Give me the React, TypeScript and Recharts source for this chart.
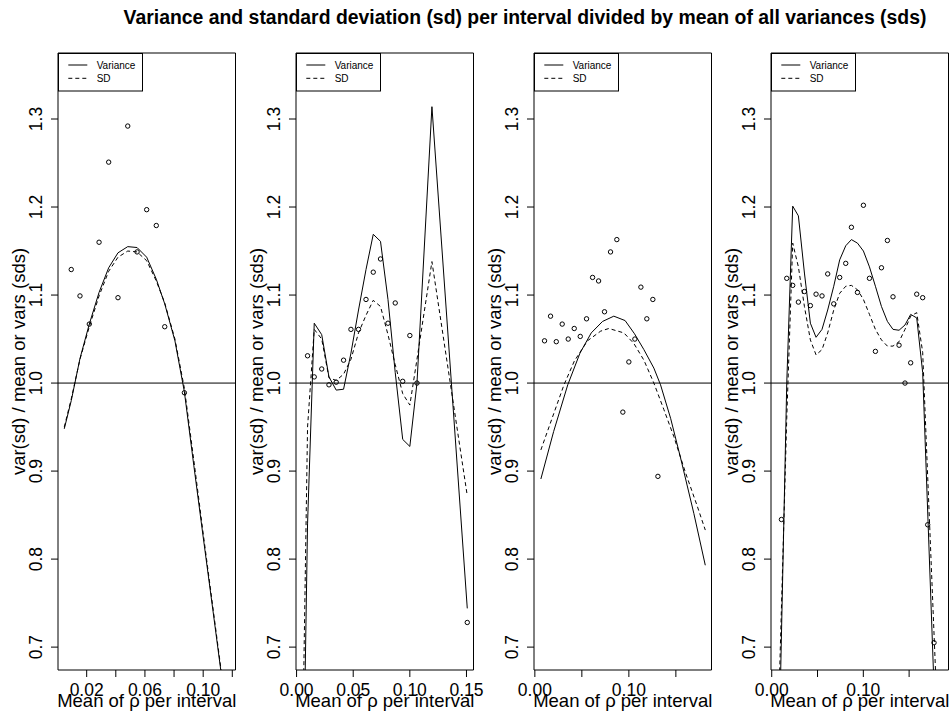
import React from 'react';
import { ComposedChart, Line, Scatter, XAxis, YAxis, ReferenceLine, ReferenceArea } from 'recharts';

const FONT = '"Liberation Sans", Arial, Helvetica, sans-serif';

// ---------- shared axis values ----------
const yTicks = [0.7, 0.8, 0.9, 1.0, 1.1, 1.2, 1.3];
const yTickLabels = ['0.7', '0.8', '0.9', '1.0', '1.1', '1.2', '1.3'];
const yDomain: [number, number] = [0.674, 1.375];

// ---------- panel 1 ----------
const p1XDomain: [number, number] = [0.0003, 0.1222];
const p1XTicks = [0.02, 0.04, 0.06, 0.08, 0.1, 0.12];
const p1XTickLabels = ['0.02', '', '0.06', '', '0.10', ''];
const p1PtX = [0.0094, 0.0154, 0.0218, 0.0285, 0.0351, 0.0415, 0.0482, 0.0546, 0.0612, 0.0678, 0.0736, 0.0871];
const p1PtY = [1.129, 1.099, 1.067, 1.16, 1.251, 1.097, 1.292, 1.149, 1.197, 1.179, 1.064, 0.989];
const p1LineX = [0.0046, 0.0094, 0.0154, 0.0218, 0.0285, 0.0351, 0.0415, 0.0482, 0.0546, 0.0612, 0.0678, 0.0736, 0.0806, 0.0871, 0.0936, 0.1001, 0.1066, 0.1131];
const p1Var = [0.948, 0.98, 1.028, 1.067, 1.103, 1.131, 1.148, 1.155, 1.154, 1.143, 1.118, 1.09, 1.048, 0.99, 0.906, 0.824, 0.743, 0.661];
const p1Sd = [0.95, 0.982, 1.027, 1.064, 1.099, 1.127, 1.143, 1.15, 1.149, 1.139, 1.116, 1.091, 1.05, 0.994, 0.912, 0.828, 0.746, 0.664];

// ---------- panel 2 ----------
const p2XDomain: [number, number] = [-0.0005, 0.1562];
const p2XTicks = [0, 0.05, 0.1, 0.15];
const p2XTickLabels = ['0.00', '0.05', '0.10', '0.15'];
const p2PtX = [0.0097, 0.0156, 0.0222, 0.0286, 0.035, 0.0415, 0.048, 0.0547, 0.0613, 0.0677, 0.0741, 0.0807, 0.0871, 0.0937, 0.1, 0.1063, 0.1507];
const p2PtY = [1.031, 1.007, 1.016, 0.998, 1.001, 1.026, 1.061, 1.061, 1.095, 1.126, 1.141, 1.068, 1.091, 1.002, 1.054, 1.0, 0.728];
const p2LineX = [0.0055, 0.0097, 0.0156, 0.0222, 0.0286, 0.035, 0.0415, 0.048, 0.0547, 0.0613, 0.0677, 0.0741, 0.0807, 0.0871, 0.0937, 0.1, 0.1063, 0.1195, 0.1507];
const p2Var = [0.5, 0.84, 1.068, 1.055, 1.007, 0.992, 0.993, 1.034, 1.083, 1.129, 1.169, 1.161, 1.095, 1.012, 0.936, 0.928, 1.0, 1.314, 0.744];
const p2Sd = [0.6, 0.95, 1.061, 1.05, 1.006, 1.003, 1.01, 1.027, 1.057, 1.077, 1.094, 1.087, 1.055, 1.021, 0.988, 0.975, 1.027, 1.138, 0.872];

// ---------- panel 3 ----------
const p3XDomain: [number, number] = [-0.0009, 0.1879];
const p3XTicks = [0, 0.05, 0.1, 0.15];
const p3XTickLabels = ['0.00', '', '0.10', ''];
const p3PtX = [0.0103, 0.0167, 0.0228, 0.0291, 0.0355, 0.0419, 0.0483, 0.055, 0.0614, 0.0678, 0.0741, 0.0805, 0.0872, 0.0936, 0.1, 0.1064, 0.1128, 0.1191, 0.1255, 0.1309];
const p3PtY = [1.048, 1.076, 1.047, 1.067, 1.05, 1.062, 1.053, 1.073, 1.12, 1.116, 1.081, 1.149, 1.163, 0.967, 1.024, 1.05, 1.109, 1.073, 1.095, 0.894];
const p3VarX = [0.0064, 0.02, 0.035, 0.048, 0.06, 0.072, 0.084, 0.096, 0.106, 0.116, 0.1266, 0.1337, 0.1444, 0.155, 0.1691, 0.1813];
const p3Var = [0.891, 0.945, 0.998, 1.034, 1.057, 1.07, 1.076, 1.071, 1.056, 1.038, 1.017, 0.998, 0.96, 0.915, 0.852, 0.793];
const p3SdX = [0.0064, 0.02, 0.031, 0.042, 0.056, 0.07, 0.0787, 0.0947, 0.1053, 0.116, 0.1266, 0.1372, 0.1479, 0.1603, 0.1728, 0.1813];
const p3Sd = [0.924, 0.965, 0.998, 1.025, 1.048, 1.059, 1.062, 1.057, 1.045, 1.026, 1.0, 0.97, 0.939, 0.898, 0.86, 0.833];

// ---------- panel 4 ----------
const p4XDomain: [number, number] = [-0.0008, 0.193];
const p4XTicks = [0, 0.05, 0.1, 0.15];
const p4XTickLabels = ['0.00', '', '0.10', ''];
const p4PtX = [0.0106, 0.0164, 0.0229, 0.0291, 0.0357, 0.0422, 0.0484, 0.0549, 0.0611, 0.0677, 0.0742, 0.0808, 0.087, 0.0936, 0.1001, 0.1067, 0.1132, 0.1198, 0.1263, 0.1324, 0.139, 0.1455, 0.1517, 0.1583, 0.1648, 0.1703, 0.1772];
const p4PtY = [0.845, 1.119, 1.111, 1.092, 1.104, 1.088, 1.101, 1.099, 1.124, 1.09, 1.12, 1.136, 1.177, 1.103, 1.202, 1.119, 1.036, 1.131, 1.162, 1.098, 1.043, 1.0, 1.023, 1.101, 1.097, 0.839, 0.705];
const p4VarX = [0.0063, 0.0164, 0.0229, 0.0291, 0.0357, 0.0422, 0.0484, 0.0549, 0.0611, 0.0677, 0.0742, 0.0808, 0.087, 0.0936, 0.1001, 0.1067, 0.1132, 0.1198, 0.1263, 0.1324, 0.139, 0.1455, 0.1517, 0.1583, 0.1648, 0.179];
const p4Var = [0.5, 1.0, 1.201, 1.19, 1.125, 1.068, 1.052, 1.061, 1.083, 1.11, 1.14, 1.156, 1.163, 1.159, 1.15, 1.132, 1.11, 1.087, 1.07, 1.061, 1.06, 1.066, 1.078, 1.074, 1.012, 0.602];
const p4SdX = [0.0063, 0.0164, 0.0229, 0.0291, 0.0357, 0.0422, 0.0484, 0.0549, 0.0611, 0.0677, 0.0742, 0.0808, 0.087, 0.0936, 0.1001, 0.1067, 0.1132, 0.1198, 0.1263, 0.1324, 0.139, 0.1455, 0.1517, 0.1583, 0.1648, 0.18];
const p4Sd = [0.585, 0.96, 1.159, 1.132, 1.087, 1.049, 1.032, 1.038, 1.057, 1.083, 1.102, 1.11, 1.111, 1.106, 1.095, 1.078, 1.061, 1.049, 1.042, 1.042, 1.047, 1.061, 1.076, 1.08, 1.035, 0.643];

const titleText = 'Variance and standard deviation (sd) per interval divided by mean of all variances (sds)';
const xLabelText = 'Mean of \u03c1 per interval';
const yLabelText = 'var(sd) / mean or vars (sds)';
const legendLabels = ['Variance', 'SD'];

// ---------- layout ----------
const CHART_W = 238;
const CHART_H = 713;
const PANEL_STEP = 237.75;
const PLOT_LEFT = 58;
const PLOT_W = 177.5;
const PLOT_TOP = 53;
const PLOT_BOTTOM = 670;
const TICK_FS = 17.5;
const LABEL_FS = 18.5;
const DASH = '4 3';

const zip = (xs: number[], ys: number[]) => xs.map((x, i) => ({ x, y: ys[i] }));

interface PanelCfg {
  xDomain: [number, number];
  xTicks: number[];
  xTickLabels: string[];
  ptX: number[];
  ptY: number[];
  varX: number[];
  varY: number[];
  sdX: number[];
  sdY: number[];
}

const panels: PanelCfg[] = [
  { xDomain: p1XDomain, xTicks: p1XTicks, xTickLabels: p1XTickLabels, ptX: p1PtX, ptY: p1PtY, varX: p1LineX, varY: p1Var, sdX: p1LineX, sdY: p1Sd },
  { xDomain: p2XDomain, xTicks: p2XTicks, xTickLabels: p2XTickLabels, ptX: p2PtX, ptY: p2PtY, varX: p2LineX, varY: p2Var, sdX: p2LineX, sdY: p2Sd },
  { xDomain: p3XDomain, xTicks: p3XTicks, xTickLabels: p3XTickLabels, ptX: p3PtX, ptY: p3PtY, varX: p3VarX, varY: p3Var, sdX: p3SdX, sdY: p3Sd },
  { xDomain: p4XDomain, xTicks: p4XTicks, xTickLabels: p4XTickLabels, ptX: p4PtX, ptY: p4PtY, varX: p4VarX, varY: p4Var, sdX: p4SdX, sdY: p4Sd },
];

const makeXTick = (ticks: number[], labels: string[]) => (props: any) => {
  const { x, payload } = props;
  const idx = ticks.findIndex((t) => Math.abs(t - payload.value) < 1e-9);
  const label = idx >= 0 ? labels[idx] : '';
  return (
    <g>
      <line x1={x} x2={x} y1={PLOT_BOTTOM} y2={PLOT_BOTTOM + 7} stroke="#000" strokeWidth={1} />
      {label ? (
        <text x={x} y={695.5} textAnchor="middle" fontSize={TICK_FS} fontFamily={FONT} fill="#000">
          {label}
        </text>
      ) : null}
    </g>
  );
};

const YTick = (props: any) => {
  const { y, payload } = props;
  const idx = yTicks.findIndex((t) => Math.abs(t - payload.value) < 1e-9);
  const label = idx >= 0 ? yTickLabels[idx] : '';
  return (
    <g>
      <line x1={PLOT_LEFT - 7} x2={PLOT_LEFT} y1={y} y2={y} stroke="#000" strokeWidth={1} />
      <text
        x={42.5}
        y={y}
        transform={`rotate(-90 42.5 ${y})`}
        textAnchor="middle"
        fontSize={TICK_FS}
        fontFamily={FONT}
        fill="#000"
      >
        {label}
      </text>
    </g>
  );
};

const renderXLabel = () => (
  <text x={PLOT_LEFT + PLOT_W / 2} y={707} textAnchor="middle" fontSize={LABEL_FS} fontFamily={FONT} fill="#000">
    {xLabelText}
  </text>
);

const renderYLabel = () => {
  const cy = (PLOT_TOP + PLOT_BOTTOM) / 2;
  return (
    <text x={25} y={cy} transform={`rotate(-90 25 ${cy})`} textAnchor="middle" fontSize={LABEL_FS} fontFamily={FONT} fill="#000">
      {yLabelText}
    </text>
  );
};

const OpenCircle = (props: any) => {
  const { cx, cy } = props;
  if (cx == null || cy == null) return <g />;
  return <circle cx={cx} cy={cy} r={2.2} fill="none" stroke="#000" strokeWidth={1} />;
};

const LegendBox = () => (
  <svg
    width={86}
    height={39}
    style={{ position: 'absolute', left: PLOT_LEFT, top: PLOT_TOP, overflow: 'visible' }}
  >
    <rect x={0.5} y={0.5} width={84} height={37.5} fill="#fff" stroke="#000" strokeWidth={1} />
    <line x1={10.3} x2={29.3} y1={12} y2={12} stroke="#000" strokeWidth={1} />
    <text x={38.7} y={15.6} fontSize={10} fontFamily={FONT} fill="#000">
      {legendLabels[0]}
    </text>
    <line x1={10.3} x2={29.3} y1={25.3} y2={25.3} stroke="#000" strokeWidth={1} strokeDasharray={DASH} />
    <text x={38.7} y={28.8} fontSize={10} fontFamily={FONT} fill="#000">
      {legendLabels[1]}
    </text>
  </svg>
);

const Panel = ({ index, cfg }: { index: number; cfg: PanelCfg }) => {
  const scatterData = zip(cfg.ptX, cfg.ptY);
  const varData = zip(cfg.varX, cfg.varY);
  const sdData = zip(cfg.sdX, cfg.sdY);
  return (
    <div style={{ position: 'absolute', left: index * PANEL_STEP, top: 0, width: CHART_W, height: CHART_H }}>
      <ComposedChart
        width={CHART_W}
        height={CHART_H}
        margin={{ top: PLOT_TOP, right: CHART_W - PLOT_LEFT - PLOT_W, bottom: 0, left: 0 }}
      >
        <XAxis
          type="number"
          dataKey="x"
          domain={cfg.xDomain}
          allowDataOverflow
          ticks={cfg.xTicks}
          interval={0}
          height={CHART_H - PLOT_BOTTOM}
          axisLine={false}
          tickLine={false}
          tick={makeXTick(cfg.xTicks, cfg.xTickLabels)}
          label={renderXLabel}
        />
        <YAxis
          type="number"
          dataKey="y"
          domain={yDomain}
          allowDataOverflow
          ticks={yTicks}
          interval={0}
          width={PLOT_LEFT}
          axisLine={false}
          tickLine={false}
          tick={YTick}
          label={renderYLabel}
        />
        <ReferenceArea
          x1={cfg.xDomain[0]}
          x2={cfg.xDomain[1]}
          y1={yDomain[0]}
          y2={yDomain[1]}
          fill="none"
          fillOpacity={0}
          stroke="#000"
          strokeWidth={1}
          ifOverflow="extendDomain"
        />
        <ReferenceLine y={1} stroke="#000" strokeWidth={1} />
        <Line data={varData} dataKey="y" type="linear" stroke="#000" strokeWidth={1} dot={false} activeDot={false} isAnimationActive={false} />
        <Line data={sdData} dataKey="y" type="linear" stroke="#000" strokeWidth={1} strokeDasharray={DASH} dot={false} activeDot={false} isAnimationActive={false} />
        <Scatter data={scatterData} dataKey="y" shape={OpenCircle} isAnimationActive={false} />
      </ComposedChart>
      <LegendBox />
    </div>
  );
};

export default function App() {
  return (
    <div style={{ position: 'absolute', left: 0, top: 0, width: 951, height: 713, background: '#fff', fontFamily: FONT }}>
      <style>{`.recharts-surface{overflow:visible}.recharts-wrapper{overflow:visible}`}</style>
      {panels.map((cfg, i) => (
        <Panel key={i} index={i} cfg={cfg} />
      ))}
      <svg width={951} height={40} style={{ position: 'absolute', left: 0, top: 0 }}>
        <text x={525} y={24} textAnchor="middle" fontSize={19.4} fontWeight="bold" fontFamily={FONT} fill="#000">
          {titleText}
        </text>
      </svg>
    </div>
  );
}
